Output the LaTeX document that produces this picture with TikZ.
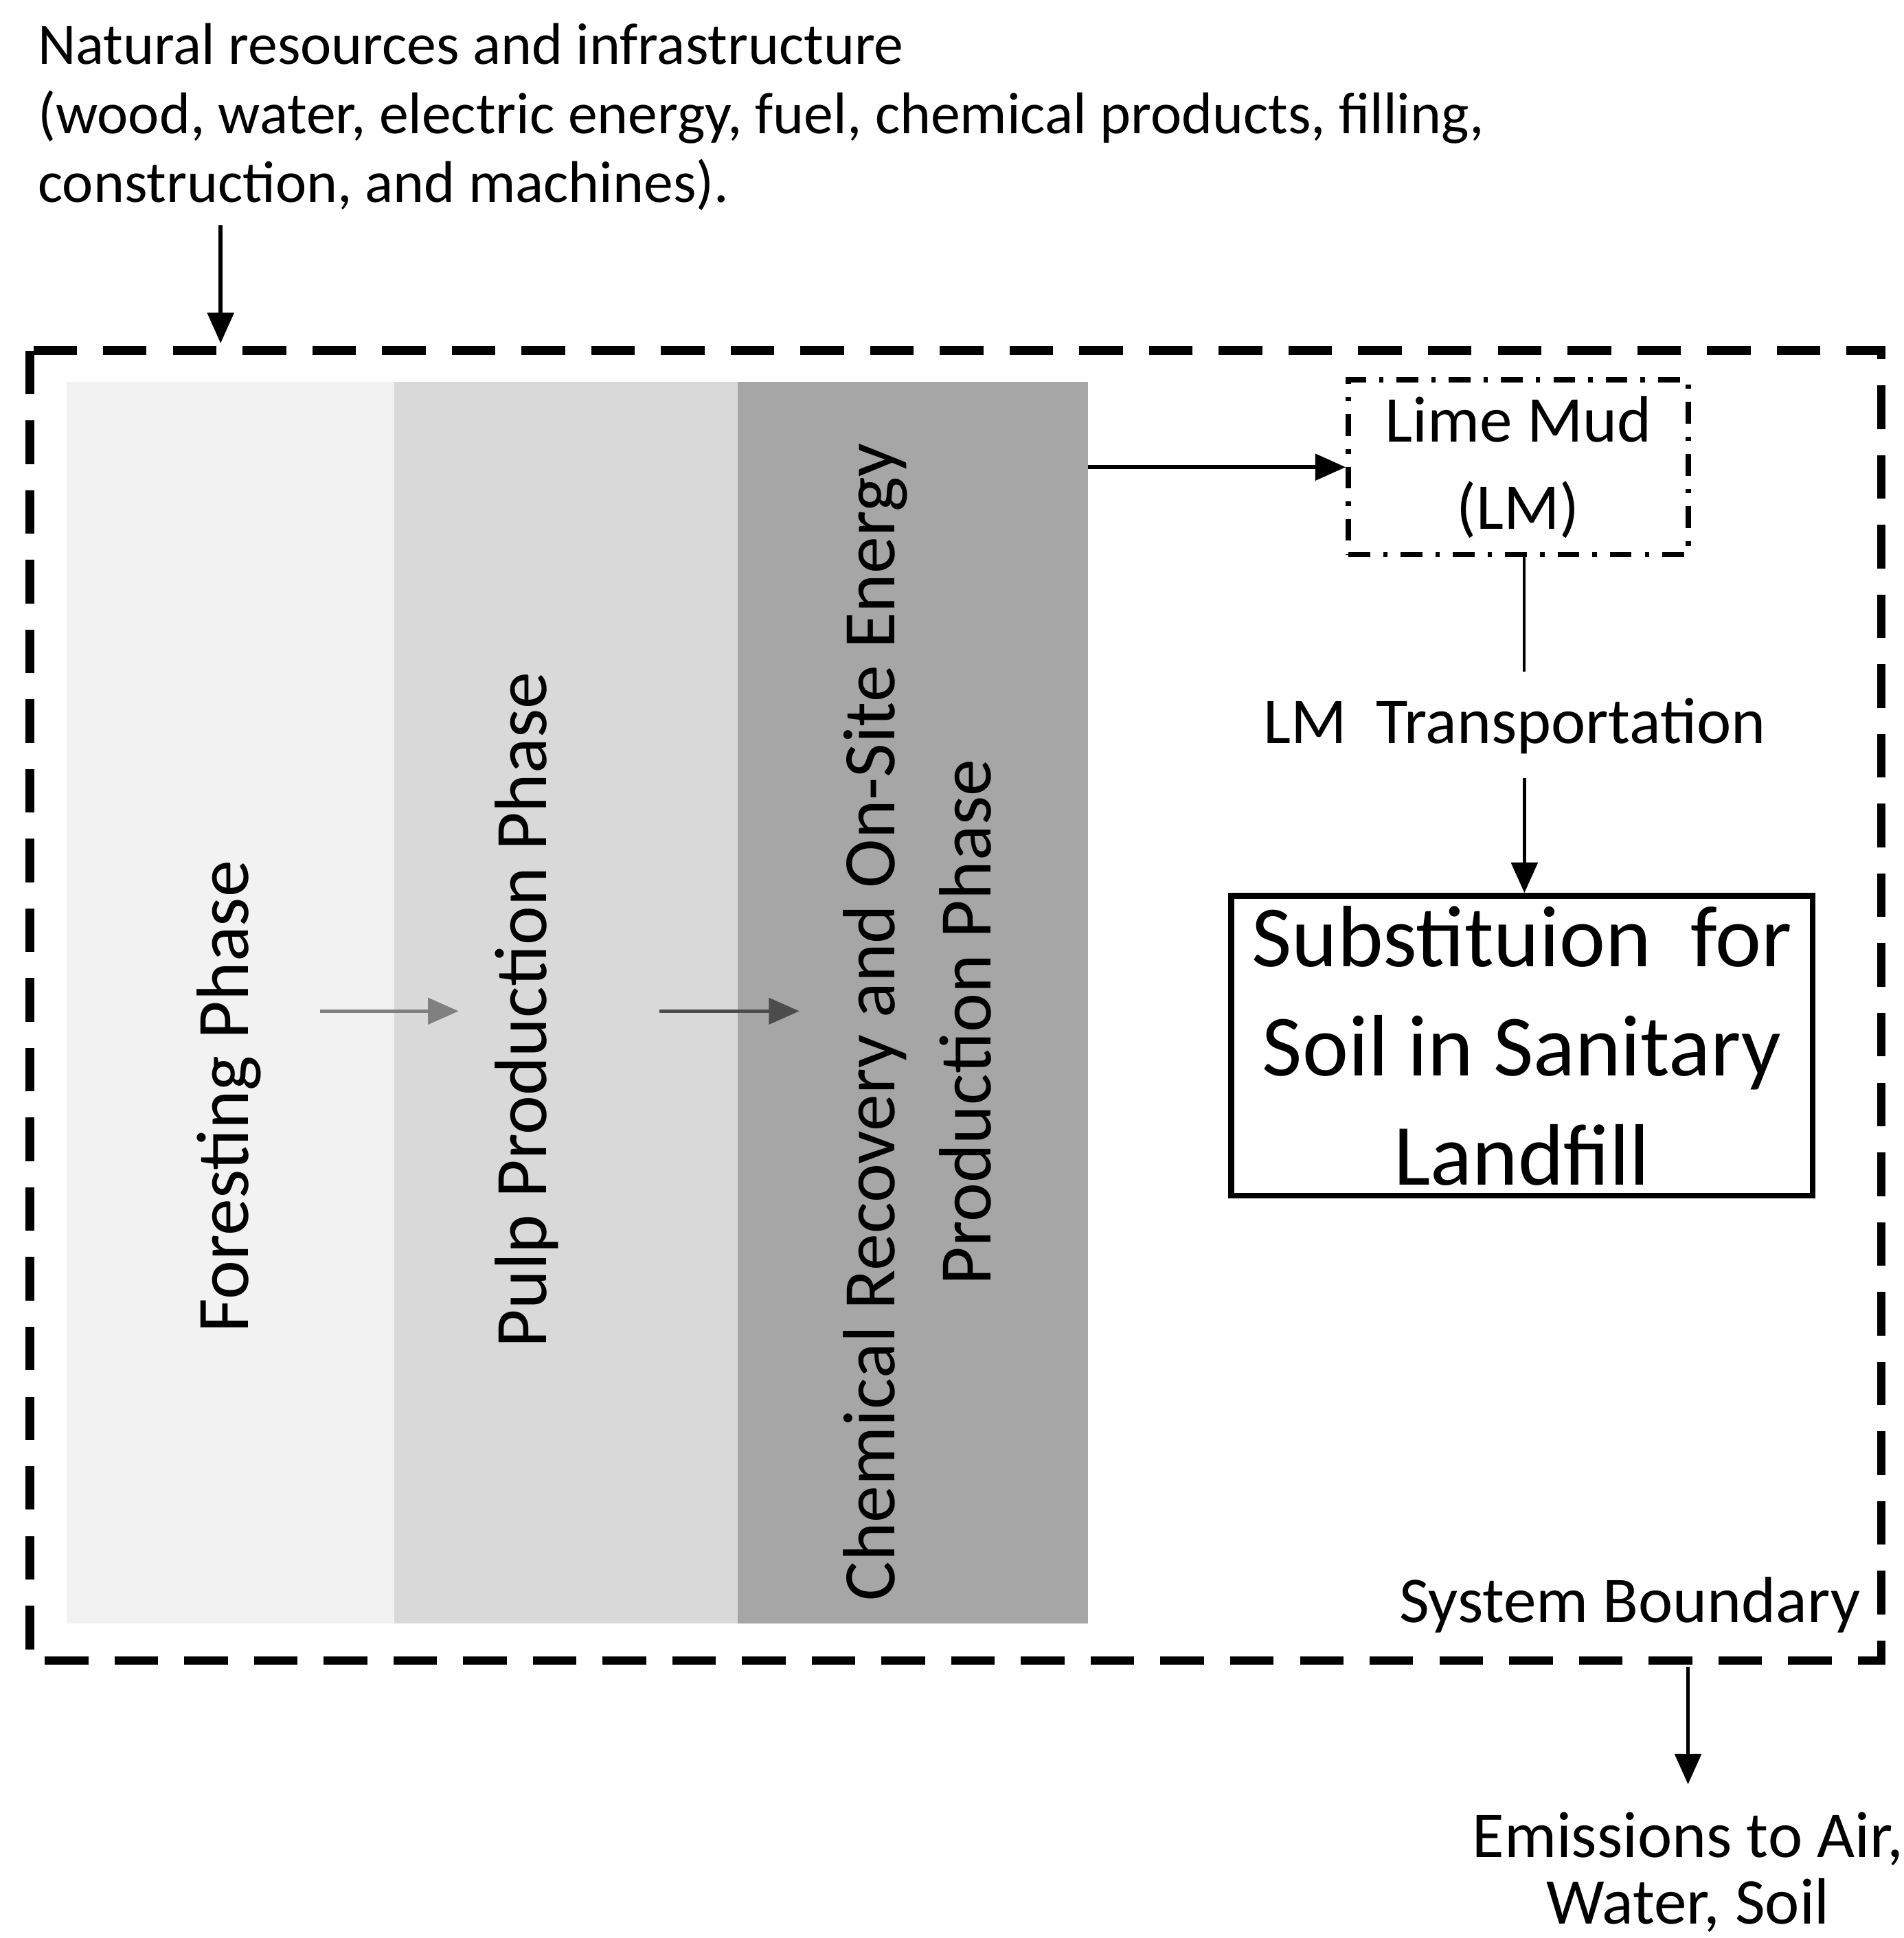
\documentclass[tikz,border=0pt]{standalone}
\usepackage{fontspec}
\setmainfont{Carlito}
\usetikzlibrary{arrows.meta}
\begin{document}
\begin{tikzpicture}[x=0.01cm,y=-0.01cm,
 arr/.style={-{Triangle[length=7pt,width=6pt]},line width=0.9pt},
 lbl/.style={font=\fontsize{13.5}{16}\selectfont,align=center,inner sep=0}]
\useasboundingbox (0,0) rectangle (1536,1564);
\fill[gray!10] (54,308) rectangle (318,1310);
\fill[gray!30] (318,308) rectangle (595,1310);
\fill[gray!70] (595,308) rectangle (878,1310);
\draw[line width=2pt,dash pattern=on 10pt off 6pt] (24,283) rectangle (1518,1340);
\node[lbl,align=left,anchor=north west,font=\fontsize{13.5}{15.9}\selectfont] (top) at (30,18) {Natural resources and infrastructure\\(wood, water, electric energy, fuel, chemical products, filling,\\construction, and machines).};
\coordinate (a1) at (178,182); \coordinate (a2) at (178,277);
\draw[arr] (a1) -- (a2);
\node[lbl,rotate=90,font=\fontsize{17}{20}\selectfont] (f) at (185,885) {Foresting Phase};
\node[lbl,rotate=90,font=\fontsize{17}{20}\selectfont] (p) at (425,815) {Pulp Production Phase};
\node[lbl,rotate=90,font=\fontsize{17}{22}\selectfont] (c) at (740,825) {Chemical Recovery and On-Site Energy\\Production Phase};
\coordinate (b1) at (258,816); \coordinate (b2) at (370,816);
\coordinate (c1) at (532,816); \coordinate (c2) at (645,816);
\draw[arr,gray,line width=0.7pt] (b1) -- (b2);
\draw[arr,black!70,line width=0.7pt] (c1) -- (c2);
\node[draw,line width=1.2pt,dash pattern=on 5pt off 3pt on 1pt off 3pt,minimum width=2.74cm,minimum height=1.41cm,lbl,font=\fontsize{15}{20}\selectfont] (lm) at (1225,377) {Lime Mud\\(LM)};
\coordinate (d1) at (878,377);
\draw[arr] (d1) -- (lm.west);
\node[lbl,font=\fontsize{15}{18}\selectfont] (tr) at (1222,586) {LM\ \ Transportation};
\node[draw,line width=1.3pt,minimum width=4.69cm,minimum height=2.42cm,lbl,font=\fontsize{20}{25}\selectfont] (sub) at (1228,844) {Substituion\ \ for\\Soil in Sanitary\\Landfill};
\draw[line width=0.6pt] (1230,448) -- (1230,542);
\coordinate (e1) at (1230,628);
\draw[arr] (e1) -- (sub.north -| e1);
\node[lbl,font=\fontsize{15}{18}\selectfont] (sb) at (1315,1295) {System Boundary};
\coordinate (g1) at (1362,1345); \coordinate (g2) at (1362,1440);
\draw[arr] (g1) -- (g2);
\node[lbl,font=\fontsize{15}{15.4}\selectfont] (em) at (1362,1511) {Emissions to Air,\\Water, Soil};
\end{tikzpicture}
\end{document}
